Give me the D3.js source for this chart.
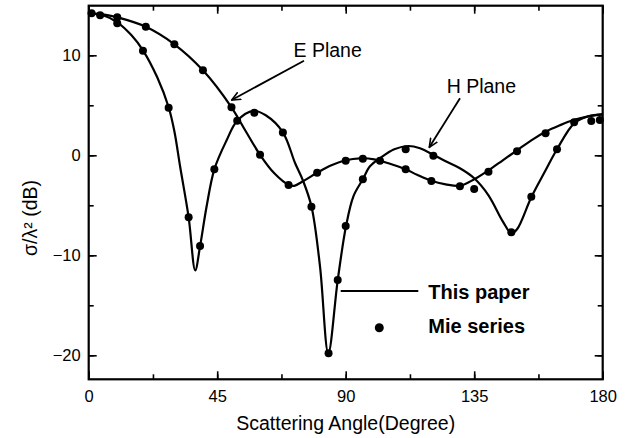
<!DOCTYPE html>
<html><head><meta charset="utf-8">
<script src="https://cdn.jsdelivr.net/npm/d3@7"></script>
<style>body{margin:0;background:#fff}svg{display:block}text{font-family:Arial,"Liberation Sans",sans-serif}</style>
</head><body><svg id="c" width="636" height="438"></svg>
<script>
// "This paper" curves: [angle, dB]
const ePlaneLine = [[0,14.2],[5,14.1],[10,13.8],[20,12.85],[30,11.1],[40,8.5],[50,4.8],[55,2.4],[60,0.05],[65,-1.8],[70,-2.95],[72,-3.05],[75,-2.6],[80,-1.75],[85,-1.0],[90,-0.5],[95,-0.3],[100,-0.4],[105,-0.8],[111,-1.4],[115,-1.95],[120,-2.55],[125,-2.9],[130,-3.05],[135,-2.4],[140,-1.5],[145,-0.5],[150,0.5],[155,1.5],[160,2.35],[165,3.0],[170,3.55],[175,3.9],[180,4.1]];
const hPlaneLine = [[0,14.2],[5,14.0],[10,13.3],[15,12.0],[19,10.5],[24,7.8],[28,4.8],[30,2.4],[32,-1.1],[35,-6.2],[37.3,-11.5],[39,-9.1],[41.3,-5.1],[44,-1.4],[48.3,1.5],[52,3.45],[57.6,4.45],[62,4.0],[68,2.3],[72.3,-0.8],[75,-2.5],[78,-5.1],[81,-11.1],[83.9,-19.8],[87.2,-12.5],[90.1,-7.1],[92.7,-4.1],[96,-2.4],[98.5,-1.1],[102,-0.3],[107,0.6],[112,0.93],[116,0.7],[121,0.0],[125,-0.6],[130,-1.3],[135,-2.3],[140,-4.0],[145,-6.6],[148,-7.8],[150,-7.4],[155,-4.2],[160,-1.5],[164,0.6],[170,3.2],[175,3.9],[180,4.1]];
// Mie series points
const ePlaneMie = [[1,14.2],[10,13.8],[20,12.86],[30,11.1],[40,8.5],[50,4.8],[60,0.05],[70,-2.97],[80,-1.74],[90,-0.54],[96,-0.35],[102,-0.54],[111,-1.4],[120,-2.57],[130,-3.1],[135,-3.37],[140,-1.64],[150,0.4],[160,2.2],[176,3.43],[179,3.53]];
const hPlaneMie = [[4,14.0],[10,13.2],[19,10.46],[28,4.76],[35,-6.2],[39,-9.07],[44,-1.4],[52,3.45],[58,4.26],[68,2.28],[78,-5.14],[84,-19.8],[87.2,-12.47],[90,-7.07],[96,-2.4],[111,0.6],[120.7,-0.04],[148,-7.7],[155,-4.14],[164,0.6],[170,3.3]];
const xTicks = [0,45,90,135,180];
const yTicks = [-20,-10,0,10];
const labels = {x:"Scattering Angle(Degree)", y:"σ/λ² (dB)", e:"E Plane", h:"H Plane", line:"This paper", dots:"Mie series"};

const svg = d3.select("#c");
const L=88.7, R=602.7, T=5.7, B=379.3;
const x = d3.scaleLinear().domain([0,180]).range([L,R]);
const y = d3.scaleLinear().domain([-22.4,14.96]).range([B,T]);

const line = d3.line().x(d=>x(d[0])).y(d=>y(d[1])).curve(d3.curveCatmullRom.alpha(0.5));
const g = svg.append("g");
[ePlaneLine,hPlaneLine].forEach(s=>g.append("path").attr("d",line(s)).attr("fill","none").attr("stroke","#000").attr("stroke-width",2.2));
[ePlaneMie,hPlaneMie].forEach(s=>g.selectAll(null).data(s).enter().append("circle")
  .attr("cx",d=>x(d[0])).attr("cy",d=>y(d[1])).attr("r",4).attr("fill","#000"));

// axes with inward ticks
const xMinor = d3.range(0,181,22.5), yMinor = d3.range(-20,15,5);
function ax(axisFn, scale, tickVals, size, tr, fmt){
  const a = svg.append("g").attr("transform",tr).call(axisFn(scale).tickValues(tickVals).tickSize(size).tickFormat(fmt||"")) ;
  a.select(".domain").remove();
  a.selectAll("line").attr("stroke","#000").attr("stroke-width",1.6);
  return a;
}
// bottom
ax(d3.axisBottom,x,xMinor,-5,`translate(0,${B})`);
const xb = ax(d3.axisBottom,x,xTicks,-8,`translate(0,${B})`,d3.format("d"));
xb.selectAll("text").attr("font-size",16.5).attr("y",11).attr("dy","0.71em").attr("fill","#000");
// top
ax(d3.axisTop,x,xMinor,-5,`translate(0,${T})`);
ax(d3.axisTop,x,xTicks,-8,`translate(0,${T})`);
// left
ax(d3.axisLeft,y,yMinor,-5,`translate(${L},0)`);
const yl = ax(d3.axisLeft,y,yTicks,-8,`translate(${L},0)`,d3.format("d"));
yl.selectAll("text").attr("font-size",16.5).attr("x",-8).attr("fill","#000");
// right
ax(d3.axisRight,y,yMinor,-5,`translate(${R},0)`);
ax(d3.axisRight,y,yTicks,-8,`translate(${R},0)`);
svg.append("rect").attr("x",L).attr("y",T).attr("width",R-L).attr("height",B-T).attr("fill","none").attr("stroke","#000").attr("stroke-width",2.2);

// titles
svg.append("text").attr("x",(L+R)/2).attr("y",430).attr("text-anchor","middle").attr("font-size",19.5).text(labels.x);
svg.append("text").attr("transform","translate(37,218) rotate(-90)").attr("text-anchor","middle").attr("font-size",19.5).text(labels.y);

// annotations
const defs = svg.append("defs");
defs.append("marker").attr("id","ah").attr("viewBox","0 0 10 10").attr("refX",9).attr("refY",5)
  .attr("markerWidth",10).attr("markerHeight",10).attr("markerUnits","userSpaceOnUse").attr("orient","auto")
  .append("path").attr("d","M0,1 L9,5 L0,9").attr("fill","none").attr("stroke","#000").attr("stroke-width",1.6);
svg.append("line").attr("x1",304).attr("y1",60.7).attr("x2",231.7).attr("y2",100).attr("stroke","#000").attr("stroke-width",1.8).attr("marker-end","url(#ah)");
svg.append("line").attr("x1",460).attr("y1",98.3).attr("x2",429.3).attr("y2",147.3).attr("stroke","#000").attr("stroke-width",1.8).attr("marker-end","url(#ah)");
svg.append("text").attr("x",293.5).attr("y",57).attr("font-size",19.5).text(labels.e);
svg.append("text").attr("x",446.7).attr("y",92.7).attr("font-size",19.5).text(labels.h);

// legend
svg.append("line").attr("x1",340.7).attr("x2",418.3).attr("y1",291).attr("y2",291).attr("stroke","#000").attr("stroke-width",2.2);
svg.append("circle").attr("cx",379.3).attr("cy",327.7).attr("r",4.5).attr("fill","#000");
svg.append("text").attr("x",428.3).attr("y",298.5).attr("font-size",20).attr("font-weight","bold").text(labels.line);
svg.append("text").attr("x",428.3).attr("y",333).attr("font-size",20).attr("font-weight","bold").text(labels.dots);
</script></body></html>
